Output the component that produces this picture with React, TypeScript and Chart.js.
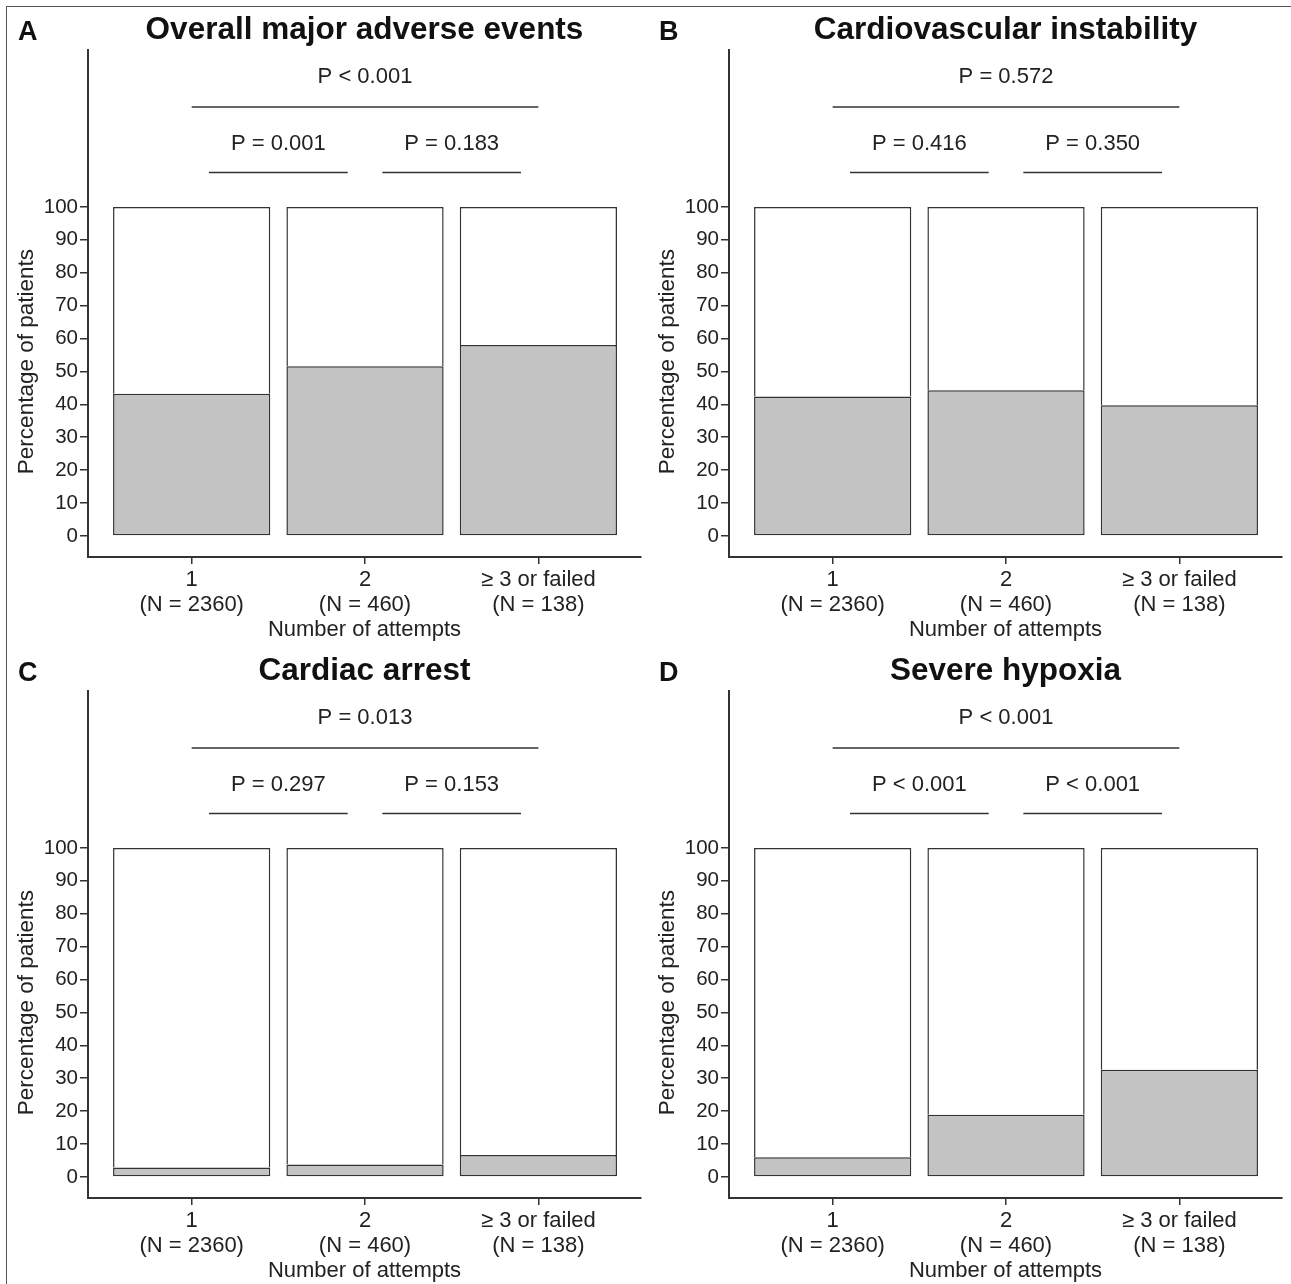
import React, { useEffect, useRef } from "react";
import { Chart, registerables } from "chart.js";

Chart.register(...registerables);

const categories = ["1", "2", "≥ 3 or failed"];
const sampleSizes = ["(N = 2360)", "(N = 460)", "(N = 138)"];
const categoryPositions = [1, 2, 3];
const yTicks = [0, 10, 20, 30, 40, 50, 60, 70, 80, 90, 100];

const panelLetters = ["A", "B", "C", "D"];
const panelTitles = [
  "Overall major adverse events",
  "Cardiovascular instability",
  "Cardiac arrest",
  "Severe hypoxia",
];

const overallMajorAdverseEvents = [43.2, 51.6, 58.0];
const cardiovascularInstability = [42.4, 44.3, 39.7];
const cardiacArrest = [2.9, 3.8, 6.7];
const severeHypoxia = [6.0, 18.9, 32.6];

const pOverall = ["P < 0.001", "P = 0.572", "P = 0.013", "P < 0.001"];
const pOneVsTwo = ["P = 0.001", "P = 0.416", "P = 0.297", "P < 0.001"];
const pTwoVsThree = ["P = 0.183", "P = 0.350", "P = 0.153", "P < 0.001"];

const panelValues = [
  overallMajorAdverseEvents,
  cardiovascularInstability,
  cardiacArrest,
  severeHypoxia,
];

const FONT = "'Liberation Sans', Arial, sans-serif";
const INK = "#333333";
const GREY = "#c3c3c3";

const CANVAS_W = 645;
const CANVAS_H = 641;

function Panel({ index }: { index: number }) {
  const ref = useRef<HTMLCanvasElement | null>(null);

  useEffect(() => {
    if (!ref.current) return;
    const values = panelValues[index];
    const remainder = values.map((v) => 100 - v);

    const annotate = {
      id: "annotate" + index,
      afterDraw(chart: any) {
        const ctx = chart.ctx;
        const xs = chart.scales.x;
        const ys = chart.scales.y;
        const area = chart.chartArea;
        const cx = (area.left + area.right) / 2;
        ctx.save();
        ctx.fillStyle = "#111";
        // panel letter
        ctx.font = `bold 27px ${FONT}`;
        ctx.textAlign = "left";
        ctx.textBaseline = "alphabetic";
        ctx.fillText(panelLetters[index], 18, 40);
        // title
        ctx.font = `bold 31.5px ${FONT}`;
        ctx.textAlign = "center";
        ctx.fillText(panelTitles[index], cx, 39);

        // brackets
        const p1 = xs.getPixelForValue(categoryPositions[0]);
        const p2 = xs.getPixelForValue(categoryPositions[1]);
        const p3 = xs.getPixelForValue(categoryPositions[2]);
        const inset = (p2 - p1) * 0.1;
        ctx.strokeStyle = INK;
        ctx.lineWidth = 1.5;
        const yTop = ys.getPixelForValue(130.4);
        const yLow = ys.getPixelForValue(110.5);
        ctx.beginPath();
        ctx.moveTo(p1, yTop);
        ctx.lineTo(p3, yTop);
        ctx.moveTo(p1 + inset, yLow);
        ctx.lineTo(p2 - inset, yLow);
        ctx.moveTo(p2 + inset, yLow);
        ctx.lineTo(p3 - inset, yLow);
        ctx.stroke();

        ctx.font = `22px ${FONT}`;
        ctx.fillStyle = "#222";
        ctx.fillText(pOverall[index], (p1 + p3) / 2, ys.getPixelForValue(137.7));
        ctx.fillText(pOneVsTwo[index], (p1 + p2) / 2, ys.getPixelForValue(117.3));
        ctx.fillText(pTwoVsThree[index], (p2 + p3) / 2, ys.getPixelForValue(117.3));

        // x title
        ctx.font = `22px ${FONT}`;
        ctx.fillText("Number of attempts", cx, 636);

        // y title
        ctx.save();
        ctx.translate(33, ys.getPixelForValue(53));
        ctx.rotate(-Math.PI / 2);
        ctx.font = `22.5px ${FONT}`;
        ctx.textAlign = "center";
        ctx.textBaseline = "alphabetic";
        ctx.fillText("Percentage of patients", 0, 0);
        ctx.restore();
        ctx.restore();
      },
    };

    const chart = new Chart(ref.current, {
      type: "bar",
      data: {
        datasets: [
          {
            label: "Event",
            data: categoryPositions.map((x, i) => ({ x, y: values[i] })),
            backgroundColor: GREY,
            borderColor: INK,
            borderWidth: 1.5,
            borderSkipped: false,
            categoryPercentage: 0.907,
            barPercentage: 1,
          },
          {
            label: "No event",
            data: categoryPositions.map((x, i) => ({ x, y: remainder[i] })),
            backgroundColor: "#ffffff",
            borderColor: INK,
            borderWidth: 1.5,
            borderSkipped: "start",
            categoryPercentage: 0.907,
            barPercentage: 1,
          },
        ],
      },
      options: {
        animation: false,
        responsive: false,
        devicePixelRatio: 1,
        layout: { padding: { left: 0, top: 50, right: 4, bottom: 0 } },
        plugins: {
          legend: { display: false },
          tooltip: { enabled: false },
          title: { display: false },
        },
        scales: {
          x: {
            type: "linear",
            stacked: true,
            offset: false,
            min: 0.402,
            max: 3.592,
            afterBuildTicks: (scale: any) => {
              scale.ticks = categoryPositions.map((v) => ({ value: v }));
            },
            afterFit: (scale: any) => {
              scale.height = 84;
            },
            grid: {
              display: true,
              offset: false,
              drawOnChartArea: false,
              drawTicks: true,
              tickLength: 7,
              color: INK,
              lineWidth: 1.5,
            },
            border: { display: true, color: INK, width: 2 },
            ticks: {
              autoSkip: false,
              maxRotation: 0,
              minRotation: 0,
              padding: 4,
              color: "#222",
              font: { family: FONT, size: 22, lineHeight: 1.12 },
              callback: (v: any) => {
                const i = categoryPositions.indexOf(Number(v));
                return i >= 0 ? [categories[i], sampleSizes[i]] : "";
              },
            },
          },
          y: {
            type: "linear",
            stacked: true,
            min: -6.4,
            max: 147.7,
            afterBuildTicks: (scale: any) => {
              scale.ticks = yTicks.map((v) => ({ value: v }));
            },
            afterFit: (scale: any) => {
              scale.width = 88;
            },
            grid: {
              display: true,
              drawOnChartArea: false,
              drawTicks: true,
              tickLength: 8,
              color: INK,
              lineWidth: 1.5,
            },
            border: { display: true, color: INK, width: 2 },
            ticks: {
              padding: 2,
              color: "#222",
              font: { family: FONT, size: 20.5 },
            },
          },
        },
      },
      plugins: [annotate],
    });
    return () => chart.destroy();
  }, [index]);

  const left = index % 2 === 0 ? 0 : 641;
  const top = index < 2 ? 0 : 641;
  return (
    <canvas
      ref={ref}
      width={CANVAS_W}
      height={CANVAS_H}
      style={{ position: "absolute", left, top, width: CANVAS_W, height: CANVAS_H }}
    />
  );
}

export default function App() {
  return (
    <div
      style={{
        position: "fixed",
        left: 0,
        top: 0,
        width: 1291,
        height: 1284,
        background: "#ffffff",
        overflow: "hidden",
      }}
    >
      <div
        style={{
          position: "absolute",
          left: 6,
          top: 6,
          width: 1300,
          height: 1300,
          border: "1.5px solid #555",
          boxSizing: "border-box",
        }}
      />
      {[0, 1, 2, 3].map((i) => (
        <Panel key={i} index={i} />
      ))}
    </div>
  );
}
